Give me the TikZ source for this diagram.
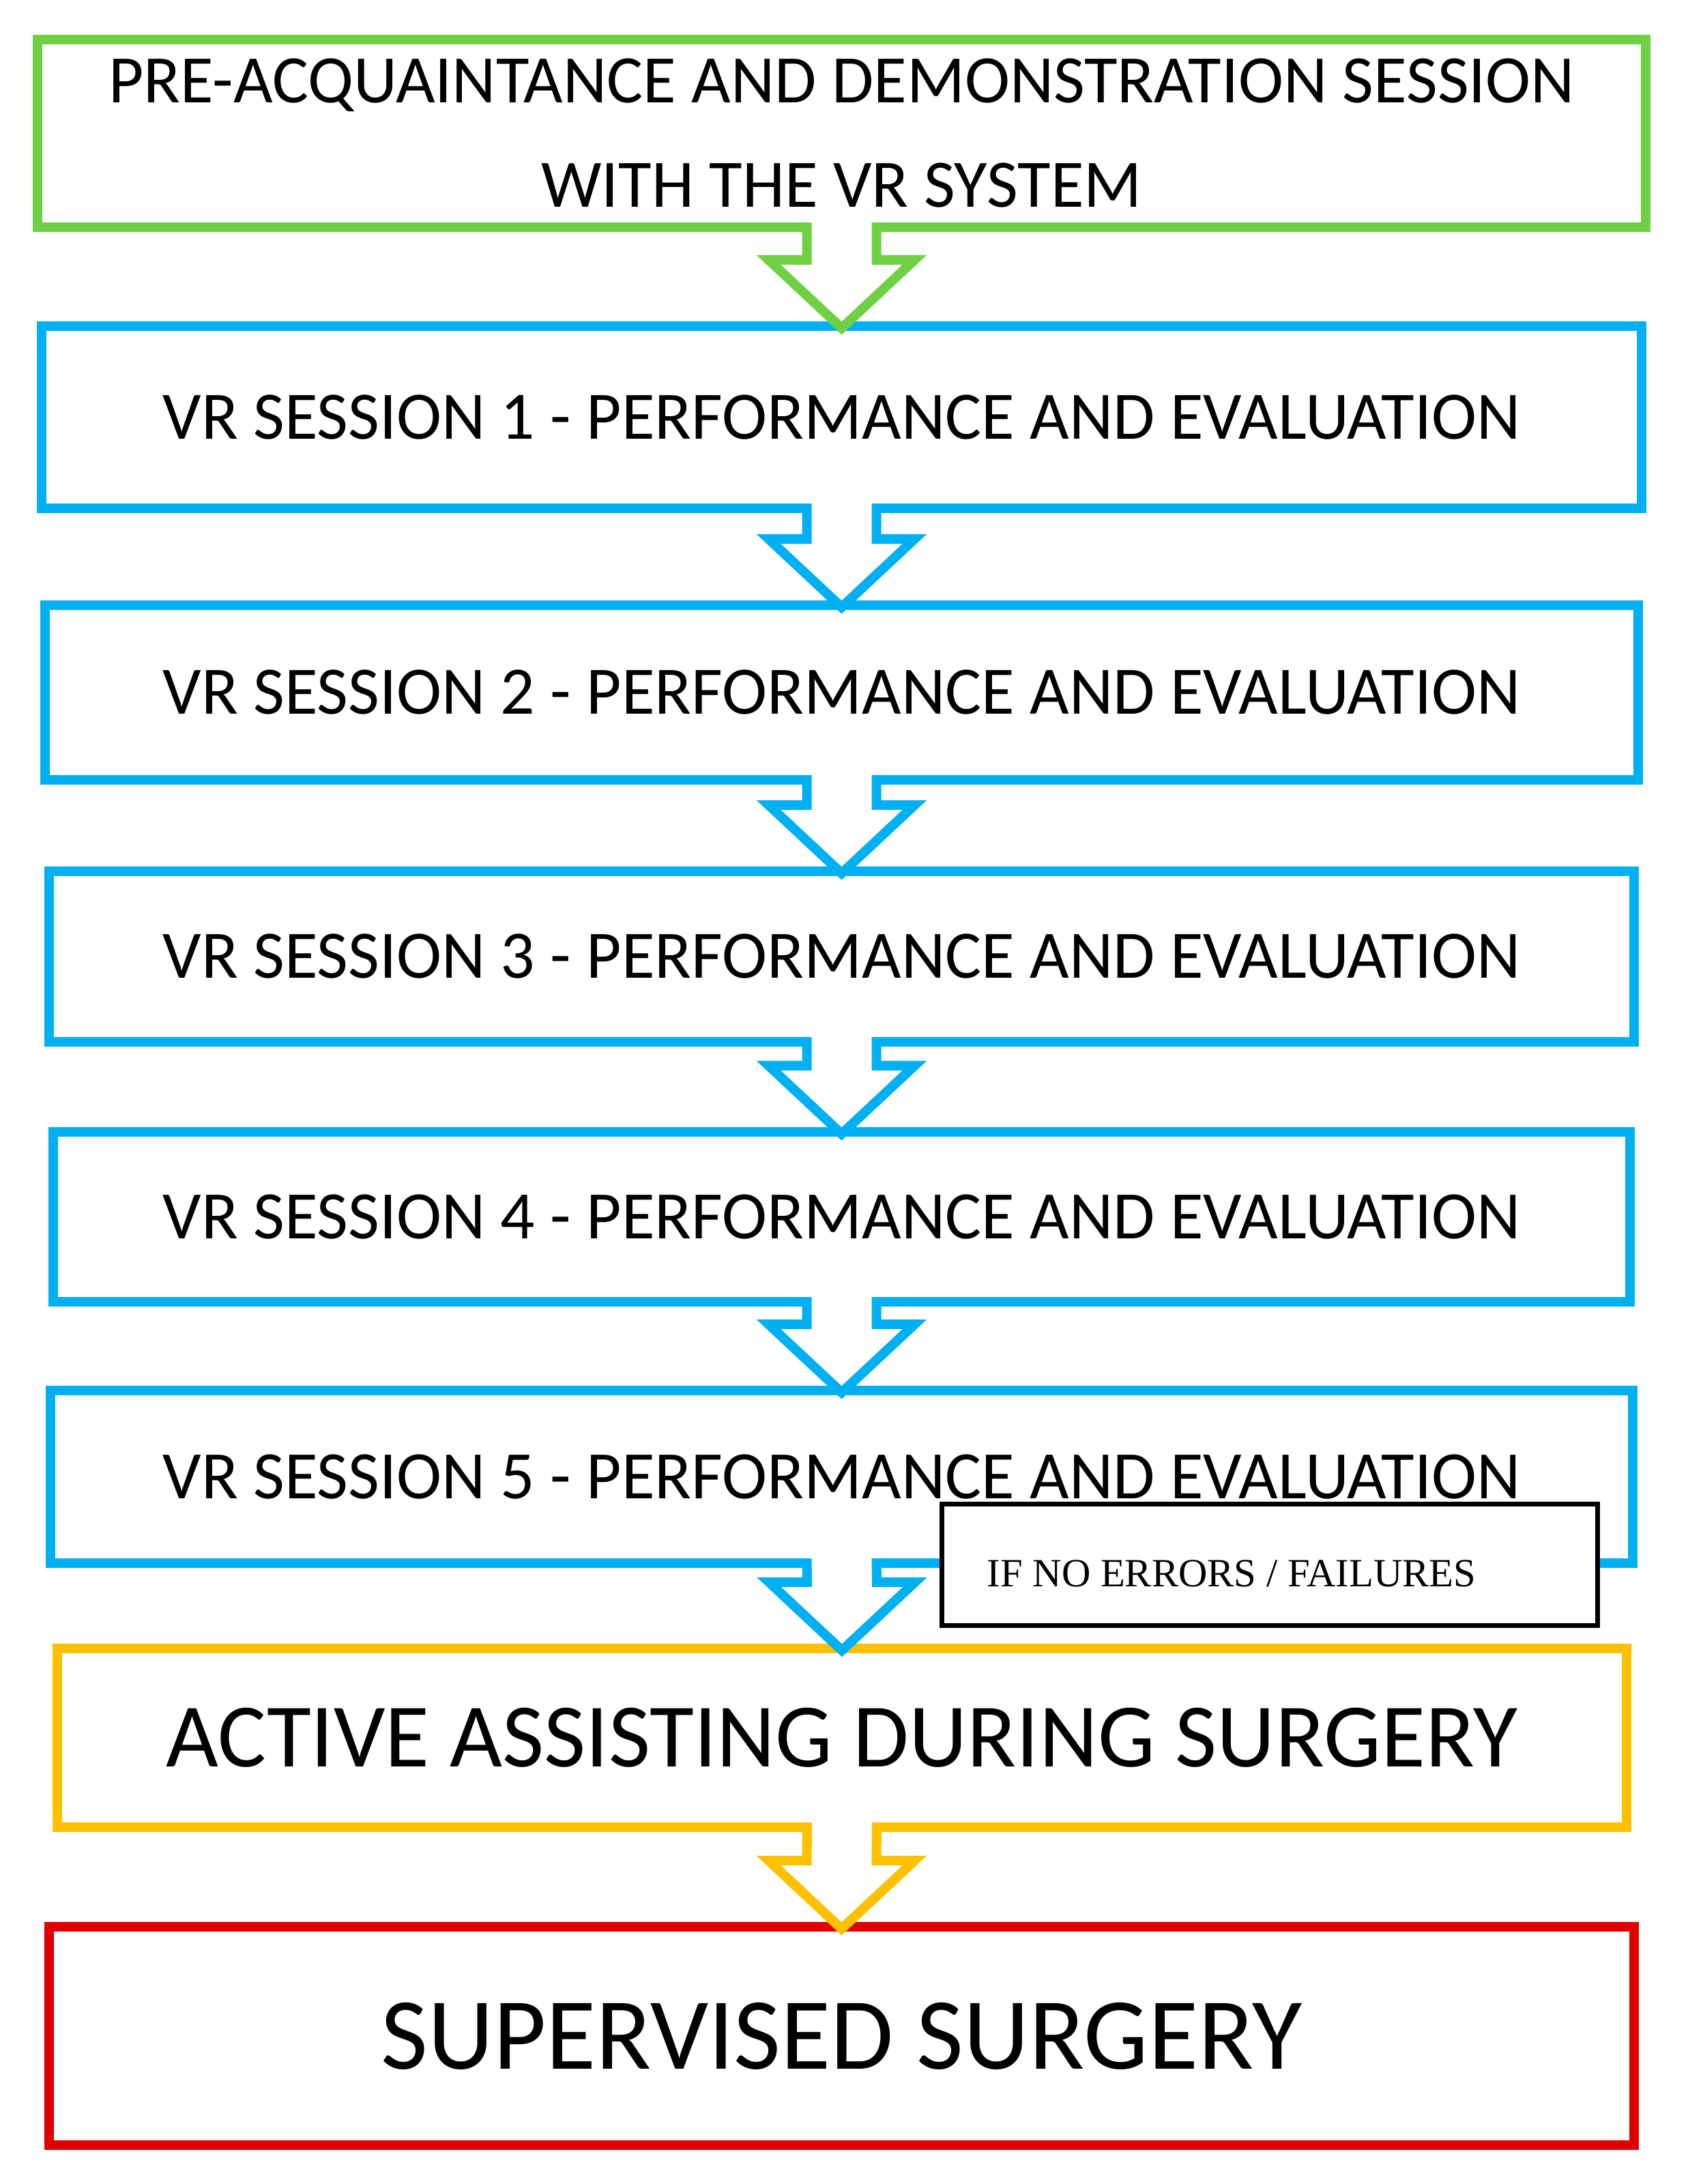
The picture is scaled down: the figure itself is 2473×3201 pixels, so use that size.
\documentclass[tikz,border=0pt]{standalone}
\usepackage{fontspec}
\setmainfont{Carlito}
\newfontfamily\timesfont{Liberation Serif}
\usetikzlibrary{calc}
\definecolor{cgreen}{HTML}{70D044}
\definecolor{cblue}{HTML}{00B0F0}
\definecolor{cyellow}{HTML}{FFC000}
\definecolor{cred}{HTML}{E00000}
\newcommand\blockarrow[3]{%
  \draw[line width=0.14cm, draw=#1, fill=white, line join=miter, miter limit=10]
    ($(#2.south)+(-51,-7)$) -- ($(#3.north)+(-51,-97)$) -- ($(#3.north)+(-107,-97)$)
    -- ($(#3.north)+(0,3)$) -- ($(#3.north)+(107,-97)$) -- ($(#3.north)+(51,-97)$)
    -- ($(#2.south)+(51,-7)$);}
\begin{document}
\begin{tikzpicture}[x=0.01cm,y=-0.01cm,
  box/.style={draw, line width=0.14cm, rectangle, inner sep=0pt, outer sep=0pt,
    fill=white, align=center, text=black},
  mainfs/.style={font=\fontsize{28.3pt}{43.5pt}\selectfont},
  bigfs/.style={font=\fontsize{37.8pt}{46pt}\selectfont},
  hugefs/.style={font=\fontsize{42.6pt}{52pt}\selectfont}]
\useasboundingbox[fill=white] (0,0) rectangle (2473,3201);
\node[box, draw=cgreen, mainfs, minimum width=23.55cm, minimum height=2.75cm] (pre) at (1233.5,195.5)
  {PRE-ACQUAINTANCE AND DEMONSTRATION SESSION\\WITH THE VR SYSTEM};
\node[box, draw=cblue, mainfs, minimum width=23.43cm, minimum height=2.67cm] (s1) at (1233.5,611.5)
  {VR SESSION 1 - PERFORMANCE AND EVALUATION};
\node[box, draw=cblue, mainfs, minimum width=23.33cm, minimum height=2.56cm] (s2) at (1233.5,1015)
  {VR SESSION 2 - PERFORMANCE AND EVALUATION};
\node[box, draw=cblue, mainfs, minimum width=23.21cm, minimum height=2.50cm] (s3) at (1233.5,1402)
  {VR SESSION 3 - PERFORMANCE AND EVALUATION};
\node[box, draw=cblue, mainfs, minimum width=23.09cm, minimum height=2.49cm] (s4) at (1233.5,1783.5)
  {VR SESSION 4 - PERFORMANCE AND EVALUATION};
\node[box, draw=cblue, mainfs, minimum width=23.17cm, minimum height=2.53cm] (s5) at (1233.5,2164.5)
  {VR SESSION 5 - PERFORMANCE AND EVALUATION};
\node[box, draw=cyellow, bigfs, minimum width=22.98cm, minimum height=2.62cm] (act) at (1234,2547)
  {ACTIVE ASSISTING DURING SURGERY};
\node[box, draw=cred, hugefs, minimum width=23.21cm, minimum height=3.20cm] (sup) at (1233.5,2984)
  {SUPERVISED SURGERY};
\blockarrow{cgreen}{pre}{s1}
\blockarrow{cblue}{s1}{s2}
\blockarrow{cblue}{s2}{s3}
\blockarrow{cblue}{s3}{s4}
\blockarrow{cblue}{s4}{s5}
\blockarrow{cblue}{s5}{act}
\blockarrow{cyellow}{act}{sup}
\node[draw=black, line width=0.07cm, fill=white, inner sep=0pt, outer sep=0pt,
  minimum width=9.60cm, minimum height=1.77cm] (cond) at (1861,2293.5) {};
\node[anchor=base west, inner sep=0pt, font=\timesfont\fontsize{16.7pt}{20pt}\selectfont]
  (condtext) at (1446,2325) {IF NO ERRORS / FAILURES};
\end{tikzpicture}
\end{document}
